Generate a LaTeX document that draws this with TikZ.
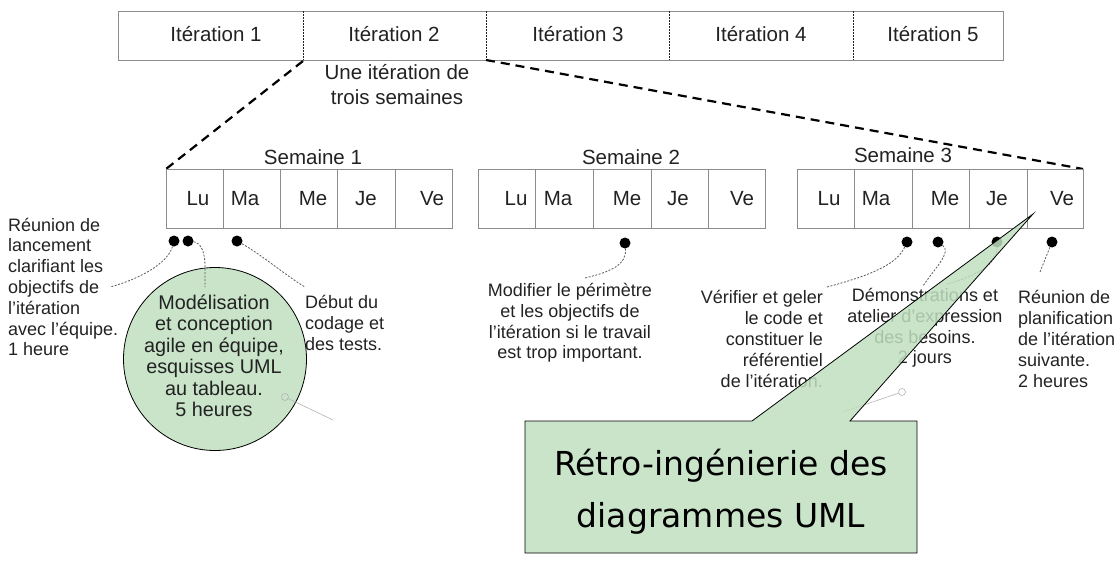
\documentclass[tikz,border=0pt]{standalone}
\usepackage{fontspec}
\setmainfont{Liberation Sans}
\newfontfamily\verd{DejaVu Sans}
\definecolor{boxgray}{HTML}{8C8C8C}
\definecolor{ink}{HTML}{222222}
\definecolor{callgreen}{HTML}{BFDFBF}
\tikzset{
  cell/.style={draw=boxgray, line width=0.9pt},
  sep/.style={draw=ink, line width=0.9pt, dash pattern=on 1.5pt off 1.5pt},
  lbl/.style={text=ink, font=\fontsize{20.5}{22}\selectfont, inner sep=0pt},
  note/.style={text=ink, font=\fontsize{18}{20.8}\selectfont, inner sep=0pt},
  dot/.style={circle, fill=black, inner sep=0pt, minimum size=11pt},
  lead/.style={draw=ink!75, line width=0.8pt, dash pattern=on 2pt off 1.5pt},
  zoomline/.style={draw=black, line width=2.2pt, dash pattern=on 9pt off 6pt},
  artifact/.style={draw=gray!60, line width=0.6pt},
  greenfill/.style={fill=callgreen, fill opacity=0.85, draw=black, line width=0.8pt},
}
\begin{document}
\begin{tikzpicture}[x=1pt,y=-1pt]
\useasboundingbox (0,0) rectangle (1120,565);
% ---- iteration bar
\draw[cell] (118,11) rectangle (1003,60);
\foreach \x in {303,486,669,853} \draw[sep] (\x,11) -- (\x,60);
\node[lbl] (it1) at (216,34) {Itération 1};
\node[lbl] (it2) at (394,34) {Itération 2};
\node[lbl] (it3) at (578,34) {Itération 3};
\node[lbl] (it4) at (761,34) {Itération 4};
\node[lbl] (it5) at (933,34) {Itération 5};
\node[lbl, align=center, font=\fontsize{20.5}{25}\selectfont] (une) at (397,85) {Une itération de\\trois semaines};
% ---- zoom lines
\coordinate (i2bl) at (303,61);
\coordinate (i2br) at (486,60);
\coordinate (w1tl) at (166,169);
\coordinate (w3tr) at (1083,169);
\draw[zoomline] (i2bl) -- (w1tl);
\draw[zoomline] (i2br) -- (w3tr);
% ---- weeks
\draw[cell] (166,169) rectangle (452,228);
\foreach \x in {223,280,337,395} \draw[cell] (\x,169) -- (\x,228);
\draw[cell] (478,169) rectangle (765,228);
\foreach \x in {535,593,651,708} \draw[cell] (\x,169) -- (\x,228);
\draw[cell] (797,169) rectangle (1083,228);
\foreach \x in {854,912,969,1027} \draw[cell] (\x,169) -- (\x,228);
\node[lbl] (s1) at (313,157) {Semaine 1};
\node[lbl] (s2) at (631,157) {Semaine 2};
\node[lbl] (s3) at (903,155) {Semaine 3};
\foreach \n/\x/\t in {a1/198/Lu,a2/245/Ma,a3/313/Me,a4/366/Je,a5/432/Ve,
                      b1/516/Lu,b2/558/Ma,b3/627/Me,b4/678/Je,b5/742/Ve,
                      c1/829/Lu,c2/876/Ma,c3/945/Me,c4/997/Je,c5/1062/Ve}
  \node[lbl] (\n) at (\x,199) {\t};
% ---- dots
\node[dot] (d1) at (174,241) {};
\node[dot] (d2) at (188,241) {};
\node[dot] (d3) at (237,241) {};
\node[dot] (d4) at (625,243) {};
\node[dot] (d5) at (907,242) {};
\node[dot] (d6) at (938,242) {};
\node[dot] (d7) at (997,242) {};
\node[dot] (d8) at (1052,242) {};
% ---- green circle
\node[circle, greenfill, minimum size=183pt, inner sep=0pt] (circ) at (215,359) {};
\node[note, align=center, font=\fontsize{19.8}{21.5}\selectfont] (model) at (214,356)
  {Modélisation\\et conception\\agile en équipe,\\esquisses UML\\au tableau.\\5 heures};
% ---- notes
\node[note, align=left, anchor=west] (n1) at (8,287)
  {Réunion de\\lancement\\clarifiant les\\objectifs de\\l'itération\\avec l'équipe.\\1 heure};
\node[note, align=left, anchor=west] (n3) at (305,323) {Début du\\codage et\\des tests.};
\node[note, align=center] (n4) at (570,323)
  {Modifier le périmètre\\et les objectifs de\\l'itération si le travail\\est trop important.};
\node[note, align=right, anchor=east] (n5) at (823,339)
  {Vérifier et geler\\le code et\\constituer le\\référentiel\\de l'itération.};
\node[note, align=center] (n6) at (925,328)
  {Démonstrations et\\atelier d'expression\\des besoins.\\2 jours};
\node[note, align=left, anchor=west] (n8) at (1018,339)
  {Réunion de\\planification\\de l'itération\\suivante.\\2 heures};
% ---- leads
\coordinate (e1) at (110,287);
\coordinate (e2) at (205,287);
\coordinate (e3) at (305,287);
\coordinate (e4) at (585,278);
\coordinate (e5) at (827,287);
\coordinate (e6) at (923,286);
\coordinate (e7) at (947,284);
\coordinate (e8) at (1040,272);
\draw[lead] (d1) .. controls +(-6,22) and +(30,-8) .. (e1);
\draw[lead] (d2) .. controls +(14,2) and +(0,-12) .. (205,266) -- (e2);
\draw[lead] (d3) .. controls +(25,14) and +(-20,-12) .. (e3);
\draw[lead] (d4) .. controls +(2,22) and +(25,-6) .. (e4);
\draw[lead] (d5) .. controls +(-10,22) and +(45,-12) .. (e5);
\draw[lead] (d6) .. controls +(14,10) and +(12,-18) .. (e6);
\draw[lead] (d7) .. controls +(0,22) and +(30,-8) .. (e7);
\draw[lead] (d8) -- (e8);
% ---- scan artifacts
\node[circle, artifact, minimum size=7pt, inner sep=0pt] (o1) at (285,397) {};
\coordinate (o1e) at (333,420);
\draw[artifact] (o1) -- (o1e);
\node[circle, artifact, minimum size=7pt, inner sep=0pt] (o2) at (902,392) {};
\coordinate (o2e) at (843,412);
\draw[artifact] (o2) -- (o2e);
% ---- callout
\coordinate (tip) at (1033,214);
\draw[greenfill, line join=miter] (525,421) -- (752,421) -- (tip) -- (850,421) -- (917,421)
   -- (917,553) -- (525,553) -- cycle;
\node[text=black, align=center, font=\verd\fontsize{33}{52}\selectfont, inner sep=0pt] (retro) at (721,492)
  {Rétro-ingénierie des\\diagrammes UML};
\end{tikzpicture}
\end{document}
